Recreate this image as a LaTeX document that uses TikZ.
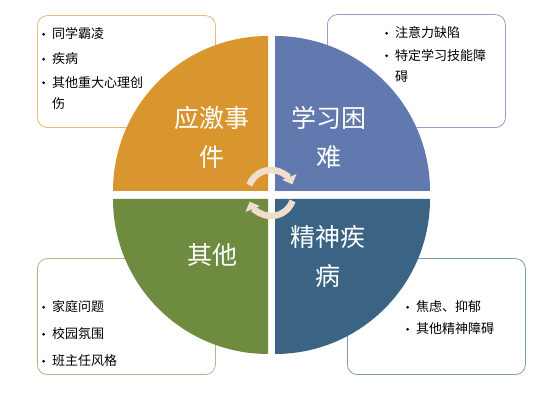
\documentclass[tikz,border=0pt]{standalone}
\usepackage{fontspec}
\setmainfont{Noto Sans CJK SC}
\usepackage{xcolor}
\definecolor{QuadOrange}{HTML}{D9962F}
\definecolor{QuadBlue}{HTML}{6179AE}
\definecolor{QuadNavy}{HTML}{3B6484}
\definecolor{QuadGreen}{HTML}{6F8B3F}
\definecolor{CycleBeige}{HTML}{F0DDCC}
\usetikzlibrary{arrows.meta,positioning}
\tikzset{
  listbox/.style={
    draw=#1,
    fill=white,
    rounded corners=10pt,
    line width=0.8pt
  },
  listitem/.style={
    anchor=west,
    inner sep=0pt,
    align=left,
    font=\fontsize{13}{21}\selectfont,
    text=black
  },
  quadtext/.style={
    align=center,
    text=white,
    inner sep=0pt,
    font=\fontsize{25}{39}\selectfont
  },
  cyclearrow/.style={
    draw=CycleBeige,
    line width=6.5pt,
    -{Triangle[width=15pt,length=8pt]}
  }
}
\newcommand{\bul}{\makebox[10pt][l]{\raisebox{3.2pt}{\tikz\fill (0,0) circle[radius=1.5pt];}}}

\begin{document}
\begin{tikzpicture}[x=1pt,y=1pt]
  \useasboundingbox (0,0) rectangle (558,403);
  % side boxes, behind the circle
  \node[listbox=QuadOrange!65, minimum width=178, minimum height=112, anchor=south west] (boxevent) at (37,275) {};
  \node[listbox=QuadBlue!70, minimum width=178, minimum height=113, anchor=south west] (boxlearn) at (327,275) {};
  \node[listbox=QuadGreen!60, minimum width=178, minimum height=116, anchor=south west] (boxother) at (37,28) {};
  \node[listbox=QuadNavy!65, minimum width=178, minimum height=116, anchor=south west] (boxmental) at (347,28) {};
  % four quarters
  \fill[QuadOrange] (268,212) -- ++(-155,0) arc[start angle=180, end angle=90, radius=155] -- cycle;
  \fill[QuadBlue] (275,212) -- ++(0,155) arc[start angle=90, end angle=0, radius=155] -- cycle;
  \fill[QuadNavy] (275,204) -- ++(155,0) arc[start angle=0, end angle=-90, radius=155] -- cycle;
  \fill[QuadGreen] (268,204) -- ++(0,-155) arc[start angle=270, end angle=180, radius=155] -- cycle;
  \node[quadtext] (event) at (212,265.5) {应激事\\件};
  \node[quadtext] (learn) at (329,265.5) {学习困\\难};
  \node[quadtext] (other) at (212,148) {其他};
  \node[quadtext] (mental) at (328,147) {精神疾\\病};
  % cycle arrows
  \draw[cyclearrow] (271,210) ++(160:23) arc[start angle=160, end angle=22, radius=23];
  \draw[cyclearrow] (271,210) ++(-20:23) arc[start angle=-20, end angle=-158, radius=23];
  % list items
  \node[listitem] (ev1) at (42,369) {\bul 同学霸凌};
  \node[listitem] (ev2) at (42,344) {\bul 疾病};
  \node[listitem] (ev3) at (42,310) {\bul 其他重大心理创\\\hspace*{10pt}伤};
  \node[listitem] (le1) at (385,370) {\bul 注意力缺陷};
  \node[listitem] (le2) at (385,337) {\bul 特定学习技能障\\\hspace*{10pt}碍};
  \node[listitem] (ot1) at (42,96) {\bul 家庭问题};
  \node[listitem] (ot2) at (42,69) {\bul 校园氛围};
  \node[listitem] (ot3) at (42,42) {\bul 班主任风格};
  \node[listitem] (me1) at (406,96) {\bul 焦虑、抑郁};
  \node[listitem] (me2) at (406,74) {\bul 其他精神障碍};
\end{tikzpicture}
\end{document}
